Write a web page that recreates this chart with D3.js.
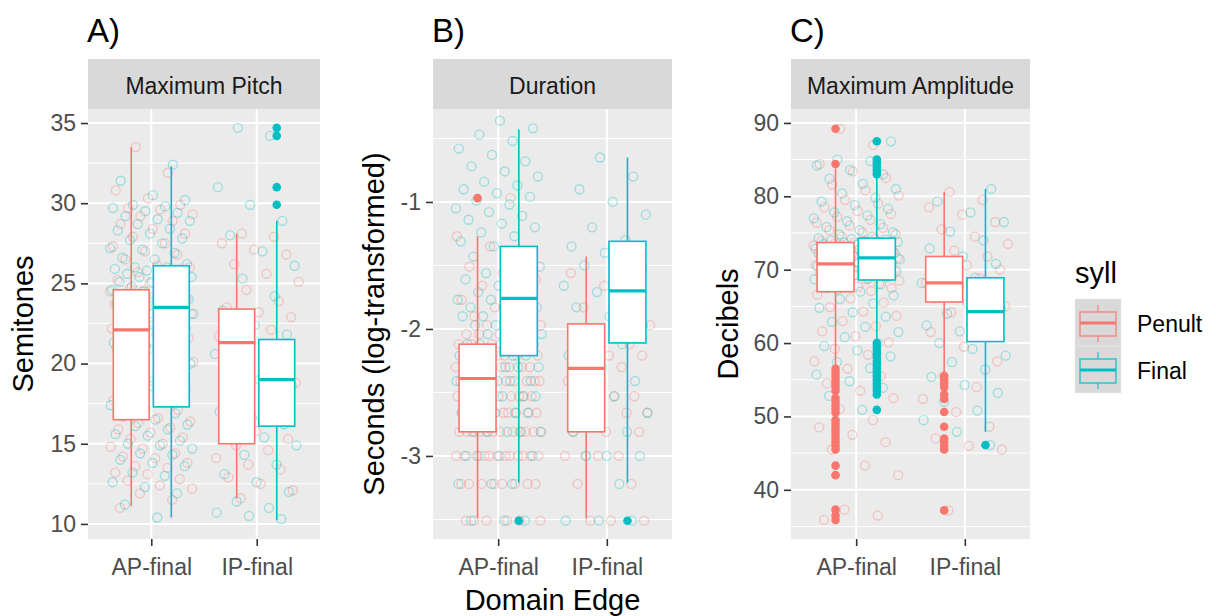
<!DOCTYPE html>
<html>
<head>
<meta charset="utf-8">
<script src="https://cdn.jsdelivr.net/npm/d3@7"></script>
<style>
  body { margin: 0; background: #fff; }
  svg { display: block; font-family: "Liberation Sans", Arial, sans-serif; }
</style>
</head>
<body>
<div id="chart"></div>
<script>
// categories and groups (order of every group array: AP-Penult, AP-Final, IP-Penult, IP-Final)
var categories = ["AP-final", "IP-final"];
var sylls = ["Penult", "Final"];
var syllColors = ["#F8766D", "#00BFC4"];

// tick labels
var pitchTicks = [10, 15, 20, 25, 30, 35];
var durationTicks = [-3, -2, -1];
var amplitudeTicks = [40, 50, 60, 70, 80, 90];

// box stats: [lower whisker, Q1, median, Q3, upper whisker]
var pitchStats = [[11.1, 16.5, 22.1, 24.6, 33.5], [10.4, 17.3, 23.5, 26.1, 32.3],
                  [11.6, 15.0, 21.3, 23.4, 28.1], [10.25, 16.1, 19.0, 21.5, 28.9]];
var durationStats = [[-3.49, -2.81, -2.39, -2.12, -1.27], [-3.21, -2.21, -1.76, -1.35, -0.43],
                     [-3.49, -2.81, -2.31, -1.96, -1.43], [-3.21, -2.11, -1.70, -1.31, -0.65]];
var amplitudeStats = [[57.0, 67.0, 70.8, 73.7, 83.8], [60.6, 68.6, 71.6, 74.3, 82.6],
                      [56.0, 65.6, 68.2, 71.8, 80.6], [47.9, 60.2, 64.3, 68.9, 81.0]];

// outliers
var pitchOutliers = [[], [], [], [34.7, 34.2, 31.0, 29.9]];
var durationOutliers = [[-0.97], [-3.51], [], [-3.51]];
var amplitudeOutliers = [
  [89.2, 84.4, 56.5, 56.0, 55.5, 55.0, 54.5, 54.0, 53.5, 52.5, 52.0, 51.5, 51.0, 50.5, 49.5, 49.0, 48.5, 48.0, 47.5, 47.0, 46.5, 46.0, 45.5, 43.3, 42.0, 37.3, 36.5, 35.9],
  [87.5, 85.0, 84.5, 84.0, 83.5, 83.0, 60.0, 59.5, 59.0, 58.5, 58.0, 57.5, 57.0, 56.5, 56.0, 55.5, 55.0, 54.5, 54.0, 53.5, 53.0, 50.9],
  [55.5, 55.0, 54.5, 54.0, 53.0, 52.4, 50.6, 48.6, 47.0, 46.5, 46.0, 45.5, 37.2],
  [46.1]];

// jittered raw observations (estimated from the cloud)
var pitchPoints = [
  [11.0, 11.5, 11.9, 12.2, 12.4, 12.7, 12.8, 13.1, 13.2, 13.5, 13.6, 13.8, 14.1, 14.2, 14.4, 14.7, 14.8, 15.0, 15.3, 15.4, 15.7, 15.9, 16.0, 16.3, 16.4,
   16.6, 16.9, 17.1, 17.2, 17.7, 17.9, 18.3, 18.4, 18.9, 19.2, 19.3, 19.8, 20.1, 20.2, 20.5, 20.7, 20.9, 21.0, 21.3, 21.5, 21.6, 21.8, 21.9, 22.0, 22.1,
   22.2, 22.3, 22.5, 22.6, 22.6, 22.8, 22.9, 23.0, 23.1, 23.3, 23.3, 23.5, 23.6, 23.7, 23.9, 24.0, 24.0, 24.2, 24.3, 24.4, 24.5, 24.5, 24.6, 24.7, 24.8,
   25.0, 25.2, 25.5, 25.7, 26.0, 26.1, 26.5, 26.8, 27.0, 27.3, 27.5, 27.9, 28.1, 28.4, 28.7, 28.9, 29.2, 29.3, 29.6, 29.7, 29.9, 30.3, 30.8, 31.9, 33.5],
  [10.4, 11.2, 11.9, 12.3, 12.6, 13.0, 13.2, 13.6, 13.8, 14.0, 14.3, 14.4, 14.7, 14.9, 15.0, 15.2, 15.5, 15.6, 15.9, 16.1, 16.2, 16.5, 16.7, 16.9, 17.1,
   17.4, 17.9, 18.0, 18.5, 18.6, 19.1, 19.4, 19.5, 20.0, 20.3, 20.4, 20.9, 21.1, 21.3, 21.7, 21.9, 22.2, 22.4, 22.5, 22.8, 23.0, 23.1, 23.2, 23.3, 23.4,
   23.6, 23.7, 23.8, 23.9, 24.0, 24.1, 24.3, 24.3, 24.5, 24.6, 24.7, 24.8, 24.9, 25.1, 25.1, 25.2, 25.4, 25.4, 25.5, 25.6, 25.7, 25.8, 25.9, 26.0, 26.0,
   26.2, 26.5, 26.6, 26.9, 27.1, 27.2, 27.5, 27.7, 27.8, 28.1, 28.3, 28.4, 28.7, 28.9, 29.0, 29.2, 29.4, 29.5, 29.7, 29.8, 29.9, 30.2, 30.5, 31.4, 32.4],
  [11.6, 12.1, 12.5, 12.9, 13.4, 13.7, 14.1, 14.6, 14.9, 15.3, 15.8, 16.4, 17.1, 17.9, 18.8, 19.7, 20.4, 21.0, 21.3, 21.7, 22.1, 22.5, 22.9, 23.2, 23.5,
   23.9, 24.6, 25.1, 25.6, 26.2, 26.8, 27.1, 27.5, 27.9, 28.1],
  [10.3, 10.5, 10.7, 11.0, 11.4, 12.0, 12.6, 13.1, 13.7, 14.3, 14.9, 15.4, 15.8, 16.2, 16.6, 17.0, 17.5, 18.1, 18.6, 19.0, 19.3, 19.7, 20.2, 20.6, 21.0,
   21.4, 21.8, 22.4, 23.3, 24.2, 25.3, 26.1, 27.0, 28.0, 28.9, 29.9, 31.0, 34.2, 34.7]];
var durationPoints = [
  [-3.51, -3.51, -3.51, -3.51, -3.51, -3.51, -3.22, -3.22, -3.22, -3.22, -3.22, -3.22, -3.22, -3.22,
   -3.0, -3.0, -3.0, -3.0, -3.0, -3.0, -3.0, -3.0, -3.0, -3.0, -3.0, -3.0,
   -2.81, -2.81, -2.81, -2.81, -2.81, -2.81, -2.81, -2.81, -2.81, -2.81, -2.81, -2.81,
   -2.66, -2.66, -2.66, -2.66, -2.66, -2.66, -2.66, -2.66, -2.66, -2.66,
   -2.53, -2.53, -2.53, -2.53, -2.53, -2.53, -2.53, -2.53, -2.53, -2.53,
   -2.41, -2.41, -2.41, -2.41, -2.41, -2.41, -2.41, -2.41, -2.41,
   -2.3, -2.3, -2.3, -2.3, -2.3, -2.3, -2.3, -2.3, -2.21, -2.21, -2.21, -2.21, -2.21, -2.21,
   -2.12, -2.12, -2.12, -2.12, -2.12, -2.04, -2.04, -2.04, -2.04, -1.97, -1.97, -1.97, -1.9, -1.9, -1.83, -1.83,
   -1.77, -1.71, -1.66, -1.61, -1.56, -1.51, -1.43, -1.35, -1.27, -0.97],
  [-3.51, -3.51, -3.51, -3.22, -3.22, -3.22, -3.0, -3.0, -3.0, -3.0, -2.81, -2.81, -2.81, -2.81, -2.81,
   -2.66, -2.66, -2.66, -2.66, -2.66, -2.53, -2.53, -2.53, -2.53, -2.53, -2.41, -2.41, -2.41, -2.41, -2.41,
   -2.3, -2.3, -2.3, -2.3, -2.3, -2.21, -2.21, -2.21, -2.21, -2.21, -2.12, -2.12, -2.12, -2.12,
   -2.04, -2.04, -2.04, -2.04, -1.97, -1.97, -1.97, -1.9, -1.9, -1.9, -1.83, -1.83, -1.83, -1.77, -1.77, -1.77,
   -1.71, -1.71, -1.66, -1.66, -1.61, -1.61, -1.56, -1.51, -1.47, -1.43, -1.39, -1.35, -1.31, -1.27, -1.24, -1.2,
   -1.17, -1.14, -1.11, -1.08, -1.05, -1.02, -0.99, -0.96, -0.93, -0.9, -0.87, -0.84, -0.8, -0.76, -0.72, -0.68,
   -0.63, -0.58, -0.52, -0.47, -0.42, -0.36],
  [-3.51, -3.51, -3.51, -3.22, -3.22, -3.0, -3.0, -3.0, -3.0, -2.81, -2.81, -2.81, -2.66, -2.66, -2.66,
   -2.53, -2.53, -2.53, -2.41, -2.41, -2.3, -2.3, -2.21, -2.21, -2.12, -2.12, -2.04, -1.97, -1.9, -1.83,
   -1.77, -1.66, -1.56, -1.43],
  [-3.51, -3.51, -3.51, -3.22, -3.0, -3.0, -3.0, -2.81, -2.81, -2.66, -2.66, -2.53, -2.41, -2.41, -2.3,
   -2.21, -2.12, -2.04, -1.97, -1.9, -1.83, -1.77, -1.71, -1.66, -1.6, -1.5, -1.45, -1.4, -1.35, -1.3,
   -1.2, -1.1, -1.0, -0.9, -0.8, -0.65]];
var amplitudePoints = [
  [35.9, 36.5, 37.3, 42.0, 43.3, 45.5, 46.5, 47.5, 48.5, 49.5, 51.0, 52.5, 53.5, 54.5, 55.5, 56.5,
   57.5, 58.4, 59.2, 60.1, 60.9, 61.6, 62.3, 63.0, 63.7, 64.3, 64.9, 65.5, 66.1, 66.6,
   67.1, 67.3, 67.5, 67.7, 67.9, 68.1, 68.3, 68.5, 68.7, 68.9, 69.0, 69.2, 69.4, 69.5, 69.7, 69.9, 70.0, 70.2, 70.3, 70.5, 70.6, 70.7, 70.8,
   70.9, 71.0, 71.2, 71.3, 71.4, 71.6, 71.7, 71.8, 72.0, 72.1, 72.2, 72.4, 72.5, 72.6, 72.8, 72.9, 73.0, 73.1, 73.3, 73.4, 73.5, 73.6, 73.7,
   73.9, 74.2, 74.5, 74.8, 75.1, 75.4, 75.7, 76.0, 76.4, 76.8, 77.2, 77.6, 78.0, 78.5, 79.0, 79.5, 80.1, 80.8, 81.6, 82.5, 83.4, 84.4, 87.0, 89.2],
  [50.9, 52.8, 53.9, 54.8, 55.7, 56.6, 57.4, 58.2, 59.0, 59.6, 60.0,
   60.8, 61.5, 62.2, 62.9, 63.6, 64.2, 64.8, 65.4, 66.0, 66.5, 67.0, 67.5, 68.0, 68.4,
   68.7, 68.8, 69.0, 69.1, 69.3, 69.4, 69.5, 69.7, 69.8, 70.0, 70.1, 70.2, 70.4, 70.5, 70.6, 70.8, 70.9, 71.0, 71.1, 71.2, 71.3, 71.4, 71.5, 71.6,
   71.7, 71.8, 71.9, 72.0, 72.2, 72.3, 72.4, 72.5, 72.7, 72.8, 72.9, 73.0, 73.1, 73.3, 73.4, 73.5, 73.6, 73.7, 73.8, 73.9, 74.0, 74.1, 74.2, 74.3,
   74.5, 74.8, 75.1, 75.4, 75.8, 76.2, 76.6, 77.0, 77.4, 77.8, 78.3, 78.8, 79.3, 79.8, 80.4, 81.0, 81.7, 82.4, 83.0, 83.6, 84.2, 84.8, 85.0, 87.5],
  [37.2, 45.5, 46.0, 47.0, 48.6, 50.6, 52.4, 54.0, 55.5, 57.5, 59.5, 61.5, 63.0, 64.2, 65.0, 65.8, 66.5, 67.1, 67.7, 68.2,
   68.8, 69.4, 70.0, 70.6, 71.2, 71.8, 72.6, 73.5, 74.5, 75.5, 76.5, 77.5, 78.5, 79.5, 80.6],
  [46.1, 47.9, 49.5, 50.8, 52.0, 53.2, 54.3, 55.4, 56.4, 57.4, 58.3, 59.2, 60.0, 60.8, 61.6, 62.4, 63.2, 64.0, 64.7, 65.4,
   66.1, 66.8, 67.5, 68.2, 68.9, 69.8, 70.8, 71.8, 72.9, 74.0, 75.2, 76.5, 77.8, 79.3, 81.0]];

var width = 1216, height = 616;
var plotTop = 109, plotBottom = 539, stripTop = 59;

var svg = d3.select("#chart").append("svg")
  .attr("width", width)
  .attr("height", height);

var panels = [
  {letter: "A)", strip: "Maximum Pitch", title: "Semitones", titleX: 33, left: 88, right: 320,
   domain: [9.06, 35.875], ticks: pitchTicks, minor: [12.5, 17.5, 22.5, 27.5, 32.5],
   stats: pitchStats, outliers: pitchOutliers, points: pitchPoints},
  {letter: "B)", strip: "Duration", title: "Seconds (log-transformed)", titleX: 384, left: 433, right: 672,
   domain: [-3.654, -0.268], ticks: durationTicks, minor: [-3.5, -2.5, -1.5, -0.5],
   stats: durationStats, outliers: durationOutliers, points: durationPoints},
  {letter: "C)", strip: "Maximum Amplitude", title: "Decibels", titleX: 738, left: 791, right: 1030,
   domain: [33.3, 91.9], ticks: amplitudeTicks, minor: [35, 45, 55, 65, 75, 85],
   stats: amplitudeStats, outliers: amplitudeOutliers, points: amplitudePoints}
];

panels.forEach(function(p) { draw_panel(svg, p); });

svg.append("text")
  .attr("x", (panels[1].left + panels[1].right) / 2)
  .attr("y", 610)
  .attr("text-anchor", "middle")
  .style("font-size", "29px")
  .text("Domain Edge");

draw_legend(svg);

function draw_panel(svg, p) {
  var x = d3.scaleLinear().domain([0.4, 2.6]).range([p.left, p.right]);
  var y = d3.scaleLinear().domain(p.domain).range([plotBottom, plotTop]);
  var g = svg.append("g");

  g.append("rect")
    .attr("x", p.left).attr("y", plotTop)
    .attr("width", p.right - p.left).attr("height", plotBottom - plotTop)
    .attr("fill", "#ebebeb");

  g.selectAll(".minor").data(p.minor).enter().append("line")
    .attr("x1", p.left).attr("x2", p.right)
    .attr("y1", function(d) { return y(d); }).attr("y2", function(d) { return y(d); })
    .attr("stroke", "#fff").attr("stroke-width", 1);
  g.selectAll(".major").data(p.ticks).enter().append("line")
    .attr("x1", p.left).attr("x2", p.right)
    .attr("y1", function(d) { return y(d); }).attr("y2", function(d) { return y(d); })
    .attr("stroke", "#fff").attr("stroke-width", 2);
  g.selectAll(".vmajor").data([1, 2]).enter().append("line")
    .attr("x1", function(d) { return x(d); }).attr("x2", function(d) { return x(d); })
    .attr("y1", plotTop).attr("y2", plotBottom)
    .attr("stroke", "#fff").attr("stroke-width", 2);

  // strip
  g.append("rect")
    .attr("x", p.left).attr("y", stripTop)
    .attr("width", p.right - p.left).attr("height", plotTop - stripTop)
    .attr("fill", "#d9d9d9");
  g.append("text")
    .attr("x", (p.left + p.right) / 2).attr("y", 94)
    .attr("text-anchor", "middle")
    .style("font-size", "23px").attr("fill", "#1a1a1a")
    .text(p.strip);

  g.append("text")
    .attr("x", p.left - 1).attr("y", 42)
    .style("font-size", "33px")
    .text(p.letter);

  // jittered points
  var seeds = [0.13, 0.57, 0.31, 0.79];
  p.points.forEach(function(vals, gi) {
    var cat = Math.floor(gi / 2) + 1, s = gi % 2;
    g.selectAll(".pt" + gi).data(vals).enter().append("circle")
      .attr("cx", function(d, i) {
        var f = (i * 0.6180339887 + seeds[gi]) % 1;
        return x(cat + f * 0.8 - 0.4);
      })
      .attr("cy", function(d) { return y(d); })
      .attr("r", 4.5)
      .attr("fill", "none")
      .attr("stroke", syllColors[s])
      .attr("stroke-width", 1.3)
      .attr("stroke-opacity", 0.34);
  });

  // boxplots
  p.stats.forEach(function(st, gi) {
    var cat = Math.floor(gi / 2) + 1, s = gi % 2;
    var cx = cat + (s === 0 ? -0.19 : 0.19);
    var col = syllColors[s];
    g.append("line")
      .attr("x1", x(cx)).attr("x2", x(cx))
      .attr("y1", y(st[0])).attr("y2", y(st[4]))
      .attr("stroke", col).attr("stroke-width", 1.6);
    g.append("rect")
      .attr("x", x(cx - 0.17)).attr("width", x(cx + 0.17) - x(cx - 0.17))
      .attr("y", y(st[3])).attr("height", y(st[1]) - y(st[3]))
      .attr("fill", "#fff").attr("stroke", col).attr("stroke-width", 1.6);
    g.append("line")
      .attr("x1", x(cx - 0.17)).attr("x2", x(cx + 0.17))
      .attr("y1", y(st[2])).attr("y2", y(st[2]))
      .attr("stroke", col).attr("stroke-width", 3.2);
    g.selectAll(".out" + gi).data(p.outliers[gi]).enter().append("circle")
      .attr("cx", x(cx))
      .attr("cy", function(d) { return y(d); })
      .attr("r", 4.3)
      .attr("fill", col);
  });

  // axes
  var yAxis = d3.axisLeft(y).tickValues(p.ticks)
    .tickFormat(function(d) { return String(d); })
    .tickSize(7).tickPadding(5);
  var ya = g.append("g").attr("transform", "translate(" + p.left + ",0)").call(yAxis);
  ya.select(".domain").remove();
  ya.selectAll("line").attr("stroke", "#333").attr("stroke-width", 1.6);
  ya.selectAll("text").attr("fill", "#4d4d4d").style("font-size", "23px")
    .style("font-family", "'Liberation Sans', Arial, sans-serif");

  var xAxis = d3.axisBottom(x).tickValues([1, 2])
    .tickFormat(function(d) { return categories[d - 1]; })
    .tickSize(7).tickPadding(13);
  var xa = g.append("g").attr("transform", "translate(0," + plotBottom + ")").call(xAxis);
  xa.select(".domain").remove();
  xa.selectAll("line").attr("stroke", "#333").attr("stroke-width", 1.6);
  xa.selectAll("text").attr("fill", "#4d4d4d").style("font-size", "23px")
    .style("font-family", "'Liberation Sans', Arial, sans-serif");

  g.append("text")
    .attr("transform", "translate(" + p.titleX + "," + ((plotTop + plotBottom) / 2) + ") rotate(-90)")
    .attr("text-anchor", "middle")
    .style("font-size", "29px")
    .text(p.title);
}

function draw_legend(svg) {
  var lg = svg.append("g");
  lg.append("text").attr("x", 1075).attr("y", 283).style("font-size", "29px").text("syll");

  var keyY = d3.scaleBand().domain(sylls).range([299, 393]);
  sylls.forEach(function(s, i) {
    var top = keyY(s), h = keyY.bandwidth(), col = syllColors[i];
    lg.append("rect").attr("x", 1075).attr("y", top).attr("width", 46).attr("height", h)
      .attr("fill", "#d9d9d9").attr("stroke", "#ebebeb").attr("stroke-width", 0.5);
    lg.append("line").attr("x1", 1098).attr("x2", 1098)
      .attr("y1", top + 6).attr("y2", top + h - 4)
      .attr("stroke", col).attr("stroke-width", 1.4).attr("stroke-opacity", 0.75);
    lg.append("rect").attr("x", 1080).attr("y", top + 13).attr("width", 36).attr("height", 24)
      .attr("fill", "#d9d9d9").attr("stroke", col).attr("stroke-width", 1.6).attr("stroke-opacity", 0.75);
    lg.append("line").attr("x1", 1080).attr("x2", 1116)
      .attr("y1", top + 24).attr("y2", top + 24)
      .attr("stroke", col).attr("stroke-width", 3.2);
    lg.append("text").attr("x", 1137).attr("y", top + h / 2 + 9)
      .style("font-size", "23px").text(s);
  });
}
</script>
</body>
</html>
